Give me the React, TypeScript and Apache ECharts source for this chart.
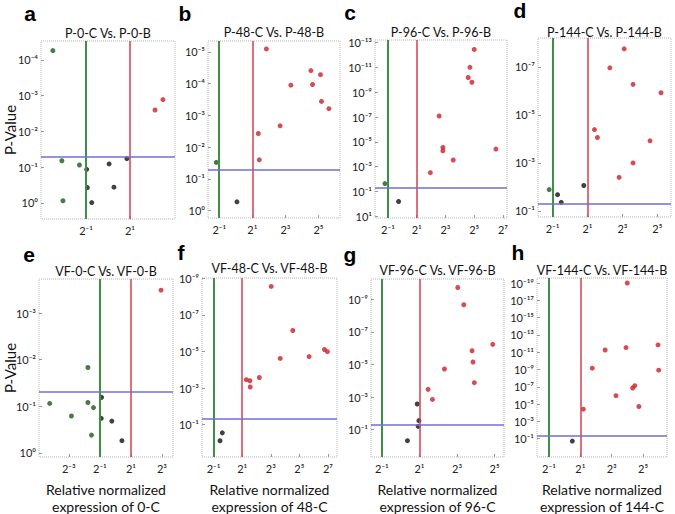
import React, { useEffect, useRef } from 'react';
import * as echarts from 'echarts';

// ---- Data (x = log2 relative expression, y = -log10 P-value) ----
const panelLetters = ['a', 'b', 'c', 'd', 'e', 'f', 'g', 'h'];
const panelTitles = [
  'P-0-C Vs. P-0-B', 'P-48-C Vs. P-48-B', 'P-96-C Vs. P-96-B', 'P-144-C Vs. P-144-B',
  'VF-0-C Vs. VF-0-B', 'VF-48-C Vs. VF-48-B', 'VF-96-C Vs. VF-96-B', 'VF-144-C Vs. VF-144-B',
];
const xAxisNames = [
  null, null, null, null,
  'Relative normalized\nexpression of 0-C',
  'Relative normalized\nexpression of 48-C',
  'Relative normalized\nexpression of 96-C',
  'Relative normalized\nexpression of 144-C',
];
const yAxisName = 'P-Value';

const xRanges = [
  [-3.05, 3.05], [-1.68, 6.3], [-1.9, 7.28], [-1.83, 5.78],
  [-4.92, 3.71], [-1.81, 7.63], [-1.58, 5.5], [-1.76, 6.52],
];
const yRanges = [
  [-0.45, 4.53], [-0.23, 5.34], [-1.13, 13.2], [0.75, 8.2],
  [-0.09, 3.73], [-0.77, 9.02], [-0.68, 10.24], [-1.12, 19.58],
];
const xTickExps = [
  [-1, 1], [-1, 1, 3, 5], [-1, 1, 3, 5, 7], [-1, 1, 3, 5],
  [-3, -1, 1, 3], [-1, 1, 3, 5, 7], [-1, 1, 3, 5], [-1, 1, 3, 5],
];
const yTickExps = [
  [0, 1, 2, 3, 4], [0, 1, 2, 3, 4, 5], [-1, 1, 3, 5, 7, 9, 11, 13], [1, 3, 5, 7],
  [0, 1, 2, 3], [1, 3, 5, 7, 9], [1, 3, 5, 7, 9], [1, 3, 5, 7, 9, 11, 13, 15, 17, 19],
];

const foldThresholds = [-1, 1]; // 2^-1 and 2^1
const pThreshold = 1.3; // -log10(0.05)

const aGreen = [[-2.51, 4.26], [-2.1, 1.18], [-1.3, 1.06], [-2.05, 0.06]];
const aBlack = [[-0.97, 0.94], [-0.94, 0.43], [-0.74, 0.01], [0.05, 1.09], [0.27, 0.44], [0.86, 1.24]];
const aRed = [[2.14, 2.6], [2.5, 2.89]];

const bGreen = [[-1.18, 1.52]];
const bBlack = [[0.07, 0.28]];
const bRed = [[1.85, 5.09], [1.36, 2.43], [1.42, 1.6], [2.68, 2.67], [3.33, 3.95], [4.54, 4.41], [4.64, 3.97], [5.12, 4.28], [5.18, 3.44], [5.63, 3.21]];

const cGreen = [[-1.21, 1.64]];
const cBlack = [[-0.26, 0.2]];
const cRed = [[1.95, 2.52], [2.56, 7.08], [2.82, 4.55], [2.82, 4.28], [3.54, 3.54], [4.58, 10.18], [4.7, 11.0], [4.84, 9.8], [5.0, 12.44], [6.51, 4.42]];

const dGreen = [[-1.19, 1.89]];
const dBlack = [[-0.71, 1.68], [-0.5, 1.36], [0.79, 2.06]];
const dRed = [[3.1, 7.75], [2.28, 6.96], [3.61, 6.27], [5.21, 5.92], [1.4, 4.39], [1.57, 4.06], [4.58, 3.92], [3.61, 3.0], [2.81, 2.4]];

const eGreen = [[-1.77, 1.83], [-4.23, 1.06], [-1.77, 1.08], [-2.83, 0.79], [-1.41, 0.97], [-1.54, 0.38]];
const eBlack = [[-0.89, 1.19], [-0.91, 0.74], [-0.23, 0.68], [0.42, 0.26]];
const eRed = [[2.94, 3.49]];

const fGreen: number[][] = [];
const fBlack = [[-0.55, 0.12], [-0.39, 0.55]];
const fRed = [[3.03, 8.56], [4.54, 6.15], [3.66, 4.62], [5.68, 4.72], [6.75, 5.11], [6.96, 4.99], [2.2, 3.58], [1.29, 3.46], [1.54, 3.4], [1.56, 3.06]];

const gGreen: number[][] = [];
const gBlack = [[0.36, 0.32], [0.88, 2.57], [0.97, 1.55], [0.93, 1.2]];
const gRed = [[1.46, 3.47], [1.69, 2.85], [2.33, 4.72], [3.04, 9.72], [3.36, 8.66], [3.8, 5.84], [3.85, 5.15], [3.92, 3.88], [4.9, 6.23]];

const hGreen: number[][] = [];
const hBlack = [[0.49, 0.72]];
const hRed = [[1.19, 4.41], [1.76, 9.15], [2.58, 11.25], [3.99, 19.0], [3.91, 11.53], [5.95, 11.84], [5.99, 8.92], [3.27, 5.97], [4.33, 6.86], [4.47, 7.13], [4.73, 4.72]];

const greenSets = [aGreen, bGreen, cGreen, dGreen, eGreen, fGreen, gGreen, hGreen];
const blackSets = [aBlack, bBlack, cBlack, dBlack, eBlack, fBlack, gBlack, hBlack];
const redSets = [aRed, bRed, cRed, dRed, eRed, fRed, gRed, hRed];

// ---- Layout (pixels) ----
const boxes = [
  { left: 41, top: 41, width: 134, height: 178 },
  { left: 208, top: 41, width: 132, height: 177 },
  { left: 375, top: 40, width: 132, height: 178 },
  { left: 538, top: 38, width: 133, height: 179 },
  { left: 39, top: 279, width: 134, height: 178 },
  { left: 202, top: 278, width: 135, height: 179 },
  { left: 371, top: 279, width: 133, height: 178 },
  { left: 537, top: 278, width: 130, height: 179 },
];
const letterPos = [[30, 13], [185, 13], [350, 12], [520, 10], [29, 254], [181, 252], [350, 254], [518, 252]];
const titleY = [33, 32, 32, 32, 271, 268, 270, 270];

const COL_GREEN = '#1c5a1c';
const COL_RED = '#cc1f2a';
const COL_BLACK = '#111111';
const LINE_GREEN = '#3f8f47';
const LINE_RED = '#d2414c';
const LINE_BLUE = '#6f6fd8';

const SUP: Record<string, string> = {
  '-': '\u207B', '0': '\u2070', '1': '\u00B9', '2': '\u00B2', '3': '\u00B3',
  '4': '\u2074', '5': '\u2075', '6': '\u2076', '7': '\u2077', '8': '\u2078', '9': '\u2079',
};
const sup = (n: number) => String(n).split('').map((c) => SUP[c] || c).join('');

const FONT = 'Lato, "Noto Sans", sans-serif';

export default function App() {
  const ref = useRef<HTMLDivElement>(null);
  useEffect(() => {
    if (!ref.current) return;
    const chart = echarts.init(ref.current, undefined, { renderer: 'svg' });
    const grid: any[] = [];
    const xAxis: any[] = [];
    const yAxis: any[] = [];
    const series: any[] = [];
    const graphic: any[] = [];

    for (let i = 0; i < 8; i++) {
      const b = boxes[i];
      grid.push({
        left: b.left, top: b.top, width: b.width, height: b.height,
        show: true, borderColor: '#b5b5b5', borderWidth: 1, borderType: 'dotted',
        backgroundColor: 'transparent',
      });
      xAxis.push({
        type: 'value', gridIndex: i, min: xRanges[i][0], max: xRanges[i][1],
        axisLine: { show: false, onZero: false }, splitLine: { show: false },
        axisTick: { show: true, inside: true, length: 3, customValues: xTickExps[i], lineStyle: { color: '#999' } },
        axisLabel: {
          customValues: xTickExps[i], margin: 6, fontSize: 11, color: '#222', fontFamily: FONT,
          formatter: (v: number) => '2' + sup(Math.round(v)),
        },
      });
      yAxis.push({
        type: 'value', gridIndex: i, min: yRanges[i][0], max: yRanges[i][1],
        axisLine: { show: false, onZero: false }, splitLine: { show: false },
        axisTick: { show: true, inside: true, length: 3, customValues: yTickExps[i], lineStyle: { color: '#999' } },
        axisLabel: {
          customValues: yTickExps[i], margin: 3, fontSize: 11, color: '#222', fontFamily: FONT,
          formatter: (v: number) => '10' + sup(-Math.round(v)),
        },
      });
      const common = { type: 'scatter', xAxisIndex: i, yAxisIndex: i, symbolSize: 5, silent: true };
      series.push({ ...common, data: greenSets[i], itemStyle: { color: COL_GREEN } });
      series.push({
        ...common, data: blackSets[i], itemStyle: { color: COL_BLACK },
        markLine: {
          silent: true, symbol: 'none', label: { show: false },
          data: [
            { xAxis: foldThresholds[0], lineStyle: { color: LINE_GREEN, width: 2, type: 'solid' } },
            { xAxis: foldThresholds[1], lineStyle: { color: LINE_RED, width: 1.5, type: 'solid' } },
            { yAxis: pThreshold, lineStyle: { color: LINE_BLUE, width: 1.5, type: 'solid' } },
          ],
        },
      });
      series.push({ ...common, data: redSets[i], itemStyle: { color: COL_RED } });

      graphic.push({
        type: 'text', x: letterPos[i][0], y: letterPos[i][1],
        style: { text: panelLetters[i], font: 'bold 21px "Liberation Sans", Arial, sans-serif', fill: '#000', textAlign: 'center', textVerticalAlign: 'middle' },
      });
      graphic.push({
        type: 'text', x: b.left + b.width / 2, y: titleY[i],
        style: { text: panelTitles[i], font: '12.5px ' + FONT, fill: '#111', textAlign: 'center', textVerticalAlign: 'middle' },
      });
      const xn = xAxisNames[i];
      if (xn) {
        graphic.push({
          type: 'text', x: b.left + b.width / 2, y: 481,
          style: { text: xn, font: '14px ' + FONT, fill: '#111', textAlign: 'center', textVerticalAlign: 'top', lineHeight: 17 },
        });
      }
      if (i === 0 || i === 4) {
        graphic.push({
          type: 'text', x: 10, y: b.top + 89, rotation: Math.PI / 2,
          style: { text: yAxisName, font: '15px ' + FONT, fill: '#111', textAlign: 'center', textVerticalAlign: 'middle' },
        });
      }
    }

    chart.setOption({
      animation: false,
      backgroundColor: '#fff',
      grid, xAxis, yAxis, series, graphic,
    });
    return () => chart.dispose();
  }, []);
  return <div ref={ref} style={{ position: 'fixed', left: 0, top: 0, width: 675, height: 514 }} />;
}
